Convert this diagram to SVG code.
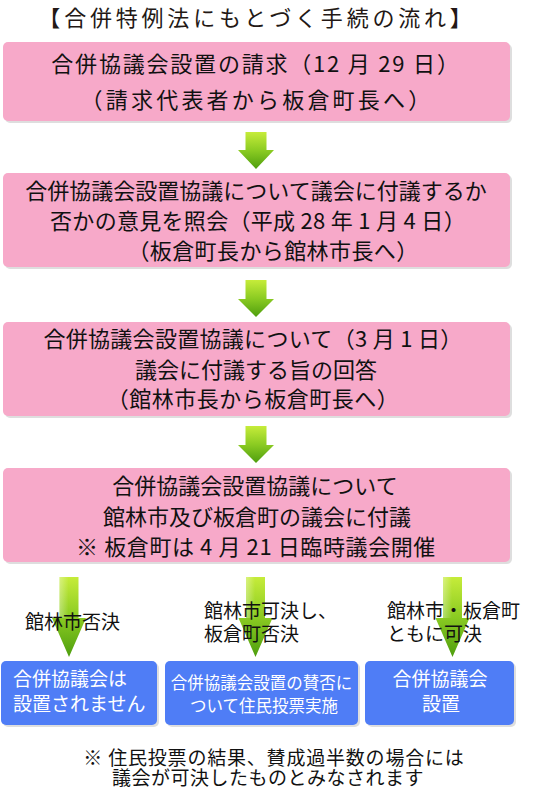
<svg xmlns="http://www.w3.org/2000/svg" width="555" height="790" viewBox="0 0 555 790">
<defs>
<style>
.pink{fill:#F7A9C9}
.blue{fill:#4F7DF6}
.sh{fill:#000;opacity:0.13}
.t{font-family:"Noto Sans CJK JP","Noto Sans CJK SC",sans-serif;font-size:22px;fill:#111;text-anchor:middle}
.w{font-family:"Noto Sans CJK JP","Noto Sans CJK SC",sans-serif;font-size:19px;fill:#fff}
.l{font-family:"Noto Sans CJK JP","Noto Sans CJK SC",sans-serif;font-size:19px;fill:#111}
.arr{fill:url(#g)}
.hl{fill:url(#h)}
</style>
<linearGradient id="g" x1="0" y1="0" x2="0" y2="1">
<stop offset="0" stop-color="#C6EC3A"/>
<stop offset="0.5" stop-color="#8BCB22"/>
<stop offset="1" stop-color="#4E9E0E"/>
</linearGradient>
<linearGradient id="h" x1="0" y1="0" x2="1" y2="0">
<stop offset="0" stop-color="#fff" stop-opacity="0.35"/>
<stop offset="1" stop-color="#fff" stop-opacity="0"/>
</linearGradient>
</defs>
<rect width="555" height="790" fill="#fff"/>

<g id="title">
<text class="t" x="257" y="26" style="letter-spacing:3.8px;fill:#231815">【合併特例法にもとづく手続の流れ】</text>
</g>

<g id="connectors">
<path class="arr" d="M245.5,132 H266.5 V150 H274 L256,169 L238,150 H245.5 Z"/>
<path class="arr" d="M245.5,280 H266.5 V299 H274 L256,317 L238,299 H245.5 Z"/>
<path class="arr" d="M245.5,426 H266.5 V445 H274 L256,463 L238,445 H245.5 Z"/>
<path class="arr" d="M59.5,577 H78.5 V618 H86 L69,657 L52,618 H59.5 Z"/>
<path class="arr" d="M246,577 H265 V618 H272.5 L255.5,657 L238.5,618 H246 Z"/>
<path class="arr" d="M443,577 H462 V618 H469.5 L452.5,657 L435.5,618 H443 Z"/>
<rect class="hl" x="59.5" y="577" width="9" height="41"/>
<rect class="hl" x="246" y="577" width="9" height="41"/>
<rect class="hl" x="443" y="577" width="9" height="41"/>
</g>

<g id="box1">
<rect class="sh" x="5" y="44" width="507" height="79" rx="5"/>
<rect class="pink" x="3" y="42" width="507" height="79" rx="5"/>
<text class="t" x="256" y="72" style="letter-spacing:1.8px">合併協議会設置の請求（12 月 29 日）</text>
<text class="t" x="257" y="108" style="letter-spacing:3.2px">（請求代表者から板倉町長へ）</text>
</g>

<g id="box2">
<rect class="sh" x="5" y="175" width="507" height="94" rx="5"/>
<rect class="pink" x="3" y="173" width="507" height="94" rx="5"/>
<text class="t" x="256" y="199">合併協議会設置協議について議会に付議するか</text>
<text class="t" x="258" y="229" style="letter-spacing:0.3px">否かの意見を照会（平成 28 年 1 月 4 日）</text>
<text class="t" x="273" y="259" style="letter-spacing:0.4px">（板倉町長から館林市長へ）</text>
</g>

<g id="box3">
<rect class="sh" x="5" y="324" width="507" height="94" rx="5"/>
<rect class="pink" x="3" y="322" width="507" height="94" rx="5"/>
<text class="t" x="253" y="347" style="letter-spacing:0.3px">合併協議会設置協議について（3 月 1 日）</text>
<text class="t" x="256" y="378">議会に付議する旨の回答</text>
<text class="t" x="253" y="407" style="letter-spacing:0.5px">（館林市長から板倉町長へ）</text>
</g>

<g id="box4">
<rect class="sh" x="5" y="470" width="507" height="94" rx="5"/>
<rect class="pink" x="3" y="468" width="507" height="94" rx="5"/>
<text class="t" x="255" y="494">合併協議会設置協議について</text>
<text class="t" x="257" y="525">館林市及び板倉町の議会に付議</text>
<text class="t" x="256" y="555" style="letter-spacing:0.6px">※ 板倉町は 4 月 21 日臨時議会開催</text>
</g>

<g id="label1">
<text class="l" x="25" y="629">館林市否決</text>
</g>
<g id="label2">
<text class="l"><tspan x="204" y="618">館林市可決し、</tspan><tspan x="204" y="641">板倉町否決</tspan></text>
</g>
<g id="label3">
<text class="l"><tspan x="387" y="618">館林市・板倉町</tspan><tspan x="387" y="641">ともに可決</tspan></text>
</g>

<g id="result1">
<rect class="sh" x="3" y="663" width="156" height="64" rx="5"/>
<rect class="blue" x="1" y="661" width="156" height="64" rx="5"/>
<text class="w"><tspan x="13" y="686">合併協議会は</tspan><tspan x="13" y="711">設置されません</tspan></text>
</g>

<g id="result2">
<rect class="sh" x="167" y="663" width="193" height="64" rx="5"/>
<rect class="blue" x="165" y="661" width="193" height="64" rx="5"/>
<text class="w" style="font-size:16.5px;text-anchor:middle"><tspan x="261.5" y="689">合併協議会設置の賛否に</tspan><tspan x="264" y="712">ついて住民投票実施</tspan></text>
</g>

<g id="result3">
<rect class="sh" x="367" y="663" width="149" height="64" rx="5"/>
<rect class="blue" x="365" y="661" width="149" height="64" rx="5"/>
<text class="w" style="text-anchor:middle"><tspan x="440" y="686">合併協議会</tspan><tspan x="441" y="711">設置</tspan></text>
</g>

<g id="note">
<text class="l" style="text-anchor:middle"><tspan x="274" y="765" style="letter-spacing:0.8px">※ 住民投票の結果、賛成過半数の場合には</tspan><tspan x="268" y="785" style="letter-spacing:0.5px">議会が可決したものとみなされます</tspan></text>
</g>
</svg>
